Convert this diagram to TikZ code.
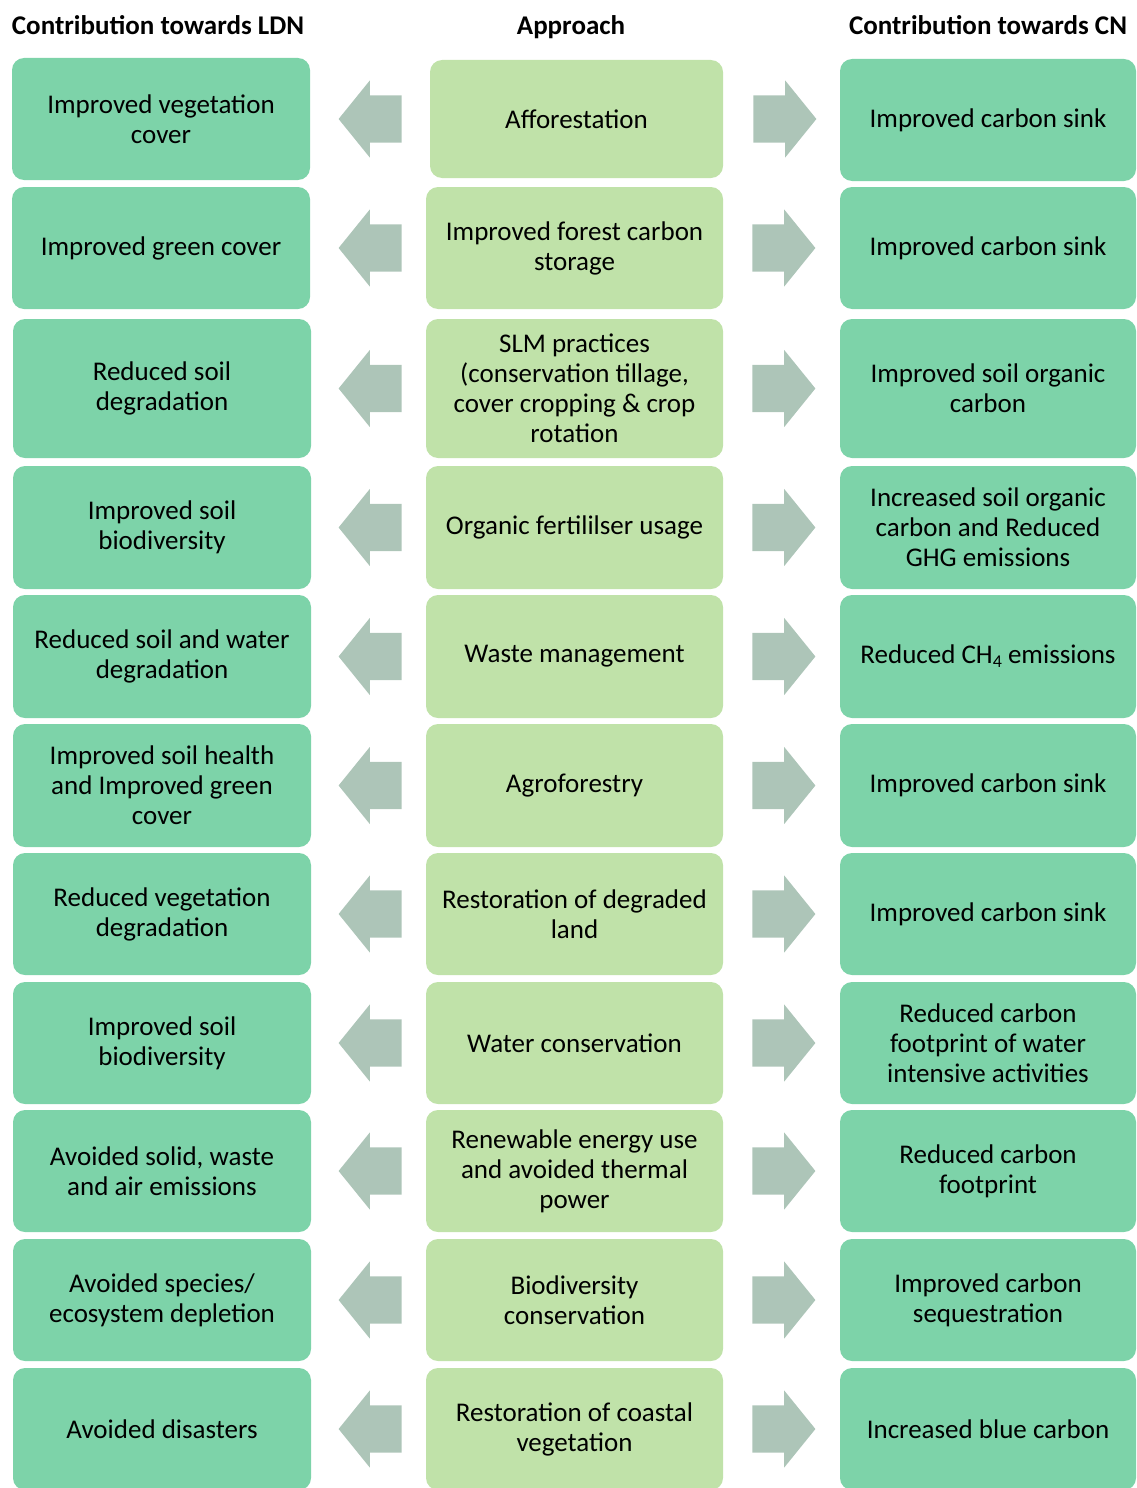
\documentclass[tikz,border=0pt]{standalone}
\usepackage{fontspec}
\setmainfont{Carlito}
\usetikzlibrary{shapes.arrows,calc}
\definecolor{ldngreen}{HTML}{7DD3A9}
\definecolor{appgreen}{HTML}{C0E2A9}
\definecolor{arrowgray}{HTML}{ADC5B8}
\newcommand{\lowsub}[1]{\raisebox{-0.3ex}{\fontsize{18}{18}\selectfont #1}}

\begin{document}
\begin{tikzpicture}[x=1pt,y=-1pt,
  boxtext/.style={font=\fontsize{27}{30}\selectfont, align=center, text=black},
  outbox/.style={boxtext, fill=ldngreen, rounded corners=12pt, inner sep=0pt, minimum width=298pt, minimum height=122pt},
  appbox/.style={boxtext, fill=appgreen, rounded corners=12pt, inner sep=0pt, minimum width=297pt, minimum height=122pt},
  header/.style={font=\bfseries\fontsize{27}{30}\selectfont, text=black, inner sep=0pt},
  blockarrow/.style={single arrow, fill=arrowgray, draw=none, inner sep=0pt, minimum height=63pt, single arrow head extend=15pt, single arrow tip angle=102, anchor=tail},
  larrow/.style={blockarrow, shape border rotate=180}]
\clip (0,0) rectangle (1136,1488);
% headers
\node[header] (hl) at (158,25) {Contribution towards LDN};
\node[header] (hc) at (571,27) {Approach};
\node[header] (hr) at (988,25) {Contribution towards CN};
% left column
\node[outbox] (l1) at (161,119) {Improved vegetation\\cover};
\node[outbox] (l2) at (161,248) {Improved green cover};
\node[outbox, minimum height=139pt] (l3) at (162,388.5) {Reduced soil\\degradation};
\node[outbox, minimum height=123pt] (l4) at (162,527.5) {Improved soil\\biodiversity};
\node[outbox, minimum height=123pt] (l5) at (162,656.5) {Reduced soil and water\\degradation};
\node[outbox, minimum height=123pt] (l6) at (162,785.5) {Improved soil health\\and Improved green\\cover};
\node[outbox] (l7) at (162,914) {Reduced vegetation\\degradation};
\node[outbox] (l8) at (162,1043) {Improved soil\\biodiversity};
\node[outbox] (l9) at (162,1171) {Avoided solid, waste\\and air emissions};
\node[outbox] (l10) at (162,1300) {Avoided species/\\ecosystem depletion};
\node[outbox] (l11) at (162,1429) {Avoided disasters};
% approach column
\node[appbox, minimum width=293pt, minimum height=118pt] (c1) at (576.5,119) {Afforestation};
\node[appbox] (c2) at (574.5,248) {Improved forest carbon\\storage};
\node[appbox, minimum height=139pt] (c3) at (574.5,388.5) {SLM practices\\(conservation tillage,\\cover cropping \& crop\\rotation};
\node[appbox, minimum height=123pt] (c4) at (574.5,527.5) {Organic fertililser usage};
\node[appbox, minimum height=123pt] (c5) at (574.5,656.5) {Waste management};
\node[appbox, minimum height=123pt] (c6) at (574.5,785.5) {Agroforestry};
\node[appbox] (c7) at (574.5,914) {Restoration of degraded\\land};
\node[appbox] (c8) at (574.5,1043) {Water conservation};
\node[appbox] (c9) at (574.5,1171) {Renewable energy use\\and avoided thermal\\power};
\node[appbox] (c10) at (574.5,1300) {Biodiversity\\conservation};
\node[appbox] (c11) at (574.5,1429) {Restoration of coastal\\vegetation};
% right column
\node[outbox, minimum width=296pt] (r1) at (988,120) {Improved carbon sink};
\node[outbox, minimum width=296pt] (r2) at (988,248) {Improved carbon sink};
\node[outbox, minimum width=296pt, minimum height=139pt] (r3) at (988,388.5) {Improved soil organic\\carbon};
\node[outbox, minimum width=296pt, minimum height=123pt] (r4) at (988,527.5) {Increased soil organic\\carbon and Reduced\\GHG emissions};
\node[outbox, minimum width=296pt, minimum height=123pt] (r5) at (988,656.5) {Reduced CH\lowsub{4} emissions};
\node[outbox, minimum width=296pt, minimum height=123pt] (r6) at (988,785.5) {Improved carbon sink};
\node[outbox, minimum width=296pt] (r7) at (988,914) {Improved carbon sink};
\node[outbox, minimum width=296pt] (r8) at (988,1043) {Reduced carbon\\footprint of water\\intensive activities};
\node[outbox, minimum width=296pt] (r9) at (988,1171) {Reduced carbon\\footprint};
\node[outbox, minimum width=296pt] (r10) at (988,1300) {Improved carbon\\sequestration};
\node[outbox, minimum width=296pt] (r11) at (988,1429) {Increased blue carbon};
% arrows between the columns
\node[larrow] (la1) at ($(c1.west)+(-28,0)$) {\rule{0pt}{47pt}};
\node[larrow] (la2) at ($(c2.west)+(-24,0)$) {\rule{0pt}{47pt}};
\node[larrow] (la3) at ($(c3.west)+(-24,0)$) {\rule{0pt}{47pt}};
\node[larrow] (la4) at ($(c4.west)+(-24,0)$) {\rule{0pt}{47pt}};
\node[larrow] (la5) at ($(c5.west)+(-24,0)$) {\rule{0pt}{47pt}};
\node[larrow] (la6) at ($(c6.west)+(-24,0)$) {\rule{0pt}{47pt}};
\node[larrow] (la7) at ($(c7.west)+(-24,0)$) {\rule{0pt}{47pt}};
\node[larrow] (la8) at ($(c8.west)+(-24,0)$) {\rule{0pt}{47pt}};
\node[larrow] (la9) at ($(c9.west)+(-24,0)$) {\rule{0pt}{47pt}};
\node[larrow] (la10) at ($(c10.west)+(-24,0)$) {\rule{0pt}{47pt}};
\node[larrow] (la11) at ($(c11.west)+(-24,0)$) {\rule{0pt}{47pt}};
\node[blockarrow] (ra1) at ($(c1.east)+(30,0)$) {\rule{0pt}{47pt}};
\node[blockarrow] (ra2) at ($(c2.east)+(29,0)$) {\rule{0pt}{47pt}};
\node[blockarrow] (ra3) at ($(c3.east)+(29,0)$) {\rule{0pt}{47pt}};
\node[blockarrow] (ra4) at ($(c4.east)+(29,0)$) {\rule{0pt}{47pt}};
\node[blockarrow] (ra5) at ($(c5.east)+(29,0)$) {\rule{0pt}{47pt}};
\node[blockarrow] (ra6) at ($(c6.east)+(29,0)$) {\rule{0pt}{47pt}};
\node[blockarrow] (ra7) at ($(c7.east)+(29,0)$) {\rule{0pt}{47pt}};
\node[blockarrow] (ra8) at ($(c8.east)+(29,0)$) {\rule{0pt}{47pt}};
\node[blockarrow] (ra9) at ($(c9.east)+(29,0)$) {\rule{0pt}{47pt}};
\node[blockarrow] (ra10) at ($(c10.east)+(29,0)$) {\rule{0pt}{47pt}};
\node[blockarrow] (ra11) at ($(c11.east)+(29,0)$) {\rule{0pt}{47pt}};
\end{tikzpicture}
\end{document}
